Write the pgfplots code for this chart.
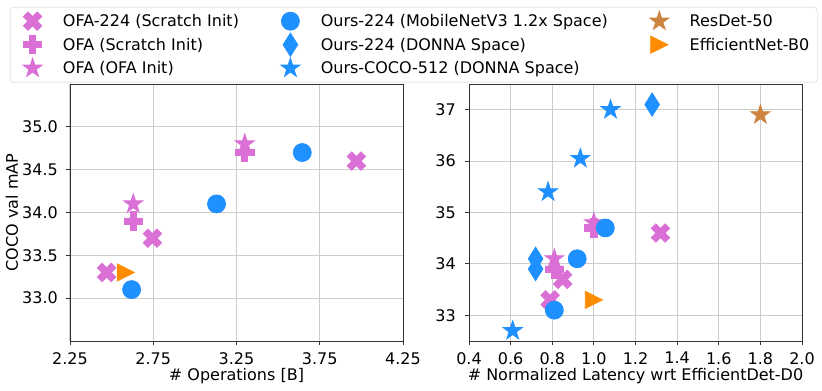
\documentclass[border=0pt]{standalone}
\usepackage{pgfplots}
\pgfplotsset{compat=1.18}
\usepackage{fontspec}
\setmainfont{DejaVu Sans}

\definecolor{orchid}{HTML}{DA70D6}
\definecolor{dodgerblue}{HTML}{1E90FF}
\definecolor{peru}{HTML}{CD853F}
\definecolor{darkorange}{HTML}{FF8C00}

\newcommand\fs{\fontsize{16bp}{19bp}\selectfont}

% filled marks in the shapes matplotlib uses (X, P, *, o, d, >)
\pgfdeclareplotmark{mX}{%
  \pgfpathmoveto{\pgfpoint{-4.6bp}{-9.2bp}}%
  \pgfpathlineto{\pgfpoint{0bp}{-4.6bp}}%
  \pgfpathlineto{\pgfpoint{4.6bp}{-9.2bp}}%
  \pgfpathlineto{\pgfpoint{9.2bp}{-4.6bp}}%
  \pgfpathlineto{\pgfpoint{4.6bp}{0bp}}%
  \pgfpathlineto{\pgfpoint{9.2bp}{4.6bp}}%
  \pgfpathlineto{\pgfpoint{4.6bp}{9.2bp}}%
  \pgfpathlineto{\pgfpoint{0bp}{4.6bp}}%
  \pgfpathlineto{\pgfpoint{-4.6bp}{9.2bp}}%
  \pgfpathlineto{\pgfpoint{-9.2bp}{4.6bp}}%
  \pgfpathlineto{\pgfpoint{-4.6bp}{0bp}}%
  \pgfpathlineto{\pgfpoint{-9.2bp}{-4.6bp}}%
  \pgfpathclose\pgfusepathqfillstroke}
\pgfdeclareplotmark{mP}{%
  \pgfpathmoveto{\pgfpoint{-3.07bp}{-9.2bp}}%
  \pgfpathlineto{\pgfpoint{3.07bp}{-9.2bp}}%
  \pgfpathlineto{\pgfpoint{3.07bp}{-3.07bp}}%
  \pgfpathlineto{\pgfpoint{9.2bp}{-3.07bp}}%
  \pgfpathlineto{\pgfpoint{9.2bp}{3.07bp}}%
  \pgfpathlineto{\pgfpoint{3.07bp}{3.07bp}}%
  \pgfpathlineto{\pgfpoint{3.07bp}{9.2bp}}%
  \pgfpathlineto{\pgfpoint{-3.07bp}{9.2bp}}%
  \pgfpathlineto{\pgfpoint{-3.07bp}{3.07bp}}%
  \pgfpathlineto{\pgfpoint{-9.2bp}{3.07bp}}%
  \pgfpathlineto{\pgfpoint{-9.2bp}{-3.07bp}}%
  \pgfpathlineto{\pgfpoint{-3.07bp}{-3.07bp}}%
  \pgfpathclose\pgfusepathqfillstroke}
\pgfdeclareplotmark{mStar}{%
  \pgfpathmoveto{\pgfpointpolar{90}{10bp}}%
  \pgfpathlineto{\pgfpointpolar{126}{3.85bp}}%
  \pgfpathlineto{\pgfpointpolar{162}{10bp}}%
  \pgfpathlineto{\pgfpointpolar{198}{3.85bp}}%
  \pgfpathlineto{\pgfpointpolar{234}{10bp}}%
  \pgfpathlineto{\pgfpointpolar{270}{3.85bp}}%
  \pgfpathlineto{\pgfpointpolar{306}{10bp}}%
  \pgfpathlineto{\pgfpointpolar{342}{3.85bp}}%
  \pgfpathlineto{\pgfpointpolar{18}{10bp}}%
  \pgfpathlineto{\pgfpointpolar{54}{3.85bp}}%
  \pgfpathclose\pgfusepathqfillstroke}
\pgfdeclareplotmark{mO}{%
  \pgfpathcircle{\pgfpointorigin}{9bp}\pgfusepathqfillstroke}
\pgfdeclareplotmark{mD}{%
  \pgfpathmoveto{\pgfpoint{0bp}{11.6bp}}%
  \pgfpathlineto{\pgfpoint{7.3bp}{0bp}}%
  \pgfpathlineto{\pgfpoint{0bp}{-11.6bp}}%
  \pgfpathlineto{\pgfpoint{-7.3bp}{0bp}}%
  \pgfpathclose\pgfusepathqfillstroke}
\pgfdeclareplotmark{mTri}{%
  \pgfpathmoveto{\pgfpoint{8.6bp}{0bp}}%
  \pgfpathlineto{\pgfpoint{-8.6bp}{8.6bp}}%
  \pgfpathlineto{\pgfpoint{-8.6bp}{-8.6bp}}%
  \pgfpathclose\pgfusepathqfillstroke}

\pgfplotsset{
  mpl/.style={
    scale only axis, width=333bp, height=257bp,
    font=\fs,
    axis line style={black!80, line width=0.9bp},
    grid=major, major grid style={black!20, line width=1bp},
    tick pos=left, tick align=outside, major tick length=4bp,
    tick style={black!80, line width=0.9bp},
    ticklabel style={font=\fs, inner sep=0pt},
    /pgf/number format/assume math mode=true,
    xticklabel style={yshift=-7bp},
    yticklabel style={xshift=-8bp},
    xlabel style={at={(axis description cs:0.5,-0.1518)}, anchor=base},
    legend image code/.code={\path (-14bp,0bp) (30bp,0bp);
      \draw[sharp corners,##1] plot coordinates {(0bp,0bp)};},
  },
}

\begin{document}
\fs
\begin{tikzpicture}
\begin{axis}[mpl, name=L, at={(0bp,0bp)}, anchor=south west,
  xmin=2.25, xmax=4.25, ymin=32.5, ymax=35.5,
  xtick={2.25,2.75,3.25,3.75,4.25}, ytick={33,33.5,34,34.5,35},
  xticklabel style={/pgf/number format/.cd, fixed, fixed zerofill, precision=2},
  yticklabel style={/pgf/number format/.cd, fixed, fixed zerofill, precision=1},
  xlabel={\# Operations [B]}, ylabel={COCO val mAP},
  ylabel style={at={(axis description cs:-0.1562,0.5)}, anchor=base},
  legend columns=3, legend cell align=left,
  legend style={at={(-0.1802,1.2996)}, anchor=north west, font=\fs,
    draw=black!20, rounded corners=3bp, fill=white,
    inner xsep=8bp, inner ysep=2.25bp,
    nodes={inner sep=0pt, text height=17.5bp, text depth=6bp},
    /tikz/every even column/.append style={column sep=37bp}},
]
\addlegendimage{only marks, mark=mX, line width=0.8bp, orchid}
\addlegendentry{OFA-224 (Scratch Init)}
\addlegendimage{only marks, mark=mO, line width=0.8bp, dodgerblue}
\addlegendentry{Ours-224 (MobileNetV3 1.2x Space)}
\addlegendimage{only marks, mark=mStar, line width=0.8bp, peru}
\addlegendentry{ResDet-50}
\addlegendimage{only marks, mark=mP, line width=0.8bp, orchid}
\addlegendentry{OFA (Scratch Init)}
\addlegendimage{only marks, mark=mD, line width=0.8bp, dodgerblue}
\addlegendentry{Ours-224 (DONNA Space)}
\addlegendimage{only marks, mark=mTri, line width=0.8bp, darkorange}
\addlegendentry{EfficientNet-B0}
\addlegendimage{only marks, mark=mStar, line width=0.8bp, orchid}
\addlegendentry{OFA (OFA Init)}
\addlegendimage{only marks, mark=mStar, line width=0.8bp, dodgerblue}
\addlegendentry{Ours-COCO-512 (DONNA Space)}

% OFA-224 (Scratch Init)
\addplot[forget plot, only marks, mark=mX, line width=0.8bp, orchid]
  coordinates {(2.47,33.3) (2.745,33.7) (3.97,34.6)};
% OFA (Scratch Init)
\addplot[forget plot, only marks, mark=mP, line width=0.8bp, orchid]
  coordinates {(2.63,33.9) (3.30,34.7)};
% OFA (OFA Init)
\addplot[forget plot, only marks, mark=mStar, line width=0.8bp, orchid]
  coordinates {(2.63,34.1) (3.30,34.8)};
% Ours-224 (MobileNetV3 1.2x Space)
\addplot[forget plot, only marks, mark=mO, line width=0.8bp, dodgerblue]
  coordinates {(2.62,33.1) (3.13,34.1) (3.645,34.7)};
% EfficientNet-B0
\addplot[forget plot, only marks, mark=mTri, line width=0.8bp, darkorange]
  coordinates {(2.585,33.3)};
\end{axis}

\begin{axis}[mpl, name=R, at={(399bp,0bp)}, anchor=south west,
  xmin=0.4, xmax=2.0, ymin=32.5, ymax=37.5,
  xtick={0.4,0.6,0.8,1.0,1.2,1.4,1.6,1.8,2.0}, ytick={33,34,35,36,37},
  xticklabel style={/pgf/number format/.cd, fixed, fixed zerofill, precision=1},
  yticklabel style={xshift=-1bp},
  xlabel={\# Normalized Latency wrt EfficientDet-D0},
]
\addplot[only marks, mark=mX, line width=0.8bp, orchid]
  coordinates {(0.79,33.3) (0.85,33.7) (1.32,34.6)};
\addplot[only marks, mark=mP, line width=0.8bp, orchid]
  coordinates {(0.81,33.9) (1.0,34.7)};
\addplot[only marks, mark=mStar, line width=0.8bp, orchid]
  coordinates {(0.81,34.1) (1.0,34.8)};
\addplot[only marks, mark=mO, line width=0.8bp, dodgerblue]
  coordinates {(0.81,33.1) (0.92,34.1) (1.055,34.7)};
\addplot[only marks, mark=mD, line width=0.8bp, dodgerblue]
  coordinates {(0.72,33.9) (0.72,34.1) (1.28,37.1)};
\addplot[only marks, mark=mStar, line width=0.8bp, dodgerblue]
  coordinates {(0.61,32.7) (0.78,35.4) (0.935,36.05) (1.08,37.0)};
\addplot[only marks, mark=mStar, line width=0.8bp, peru]
  coordinates {(1.80,36.9)};
\addplot[only marks, mark=mTri, line width=0.8bp, darkorange]
  coordinates {(1.0,33.3)};
\end{axis}

\pgfresetboundingbox
\path[use as bounding box] (-70bp,-50bp) rectangle (752bp,341bp);
\end{tikzpicture}
\end{document}
